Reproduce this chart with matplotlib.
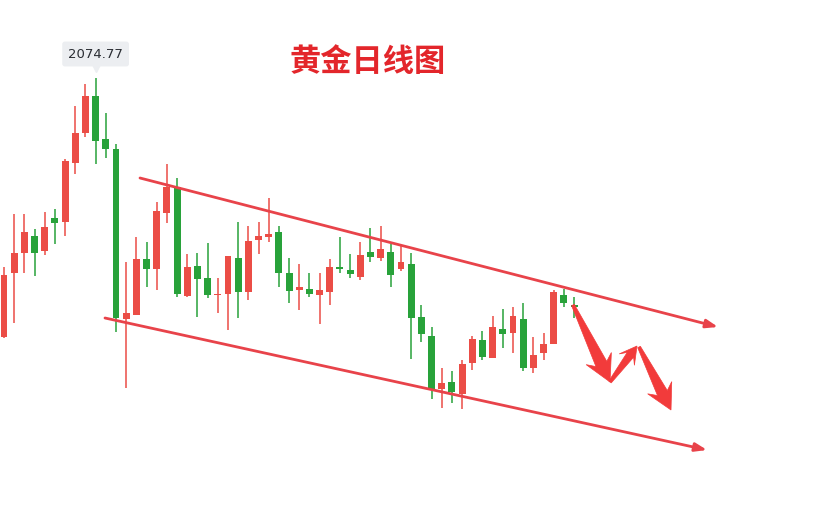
import matplotlib
matplotlib.use("Agg")
import numpy as np
import matplotlib.pyplot as plt
from matplotlib.patches import Polygon
from matplotlib.transforms import offset_copy

# ---------------- Data (daily OHLC) ----------------
opens = [1984.12, 2006.52, 2013.52, 2019.47, 2014.22, 2025.77, 2024.37, 2045.02, 2055.52, 2068.47,
         2053.42, 2049.92, 1990.42, 1991.82, 2011.42, 2007.92, 2027.52, 2036.62, 1998.47, 2008.97,
         2004.77, 1998.82, 1999.17, 2011.77, 1999.87, 2018.07, 2019.12, 2020.87, 2006.52, 2000.57,
         2000.92, 1998.82, 1999.87, 2008.62, 2007.57, 2005.12, 2013.87, 2011.77, 2013.87, 2007.92,
         2009.67, 1991.12, 1984.47, 1965.92, 1968.37, 1964.17, 1975.02, 1983.07, 1976.77, 1986.92,
         1985.52, 1990.42, 1973.27, 1978.52, 1981.67, 1998.82, 1995.32]
highs = [2008.62, 2027.17, 2027.17, 2021.92, 2027.87, 2028.92, 2046.42, 2064.97, 2072.67, 2074.77,
         2062.52, 2051.67, 2010.37, 2019.12, 2017.37, 2031.37, 2044.67, 2039.77, 2013.17, 2013.52,
         2017.02, 2004.77, 2012.47, 2024.37, 2022.97, 2024.37, 2032.77, 2022.97, 2011.77, 2009.67,
         2006.52, 2006.52, 2011.42, 2019.12, 2013.17, 2017.37, 2022.27, 2022.97, 2016.67, 2015.97,
         2013.52, 1995.32, 1987.62, 1973.27, 1972.22, 1976.07, 1984.47, 1986.22, 1991.47, 1993.92,
         1994.62, 1996.02, 1984.12, 1985.52, 2000.57, 2000.92, 1998.12]
lows = [1983.77, 1989.02, 2006.52, 2005.47, 2012.82, 2016.67, 2019.47, 2041.17, 2054.12, 2044.67,
        2046.77, 1985.87, 1966.27, 1991.82, 2001.62, 2000.57, 2024.02, 1998.12, 1998.12, 1991.12,
        1997.77, 1992.52, 1986.57, 1990.77, 1997.07, 2013.17, 2017.37, 2001.62, 1996.02, 1993.57,
        1998.12, 1988.67, 1995.32, 2006.52, 2004.77, 2004.07, 2010.37, 2010.72, 2001.62, 2007.22,
        1976.42, 1982.37, 1962.42, 1959.27, 1961.02, 1958.92, 1972.57, 1976.07, 1976.77, 1980.27,
        1978.52, 1972.22, 1971.52, 1976.07, 1981.67, 1994.62, 1990.77]
closes = [2005.82, 2013.52, 2020.87, 2013.52, 2022.62, 2024.02, 2045.72, 2055.52, 2068.47, 2052.72,
          2049.92, 1990.77, 1992.52, 2011.42, 2007.92, 2028.22, 2036.62, 1999.17, 2008.62, 2004.42,
          1998.82, 1999.17, 2012.47, 1999.87, 2017.72, 2019.47, 2020.17, 2006.52, 2000.22, 2001.62,
          1999.17, 2000.57, 2008.62, 2007.92, 2006.17, 2012.82, 2012.12, 2014.92, 2005.82, 2010.37,
          1990.77, 1985.17, 1965.92, 1968.02, 1964.87, 1974.67, 1983.42, 1977.12, 1987.62, 1985.17,
          1991.47, 1973.27, 1977.82, 1981.67, 1999.87, 1996.02, 1994.62]

peak_index = 9
peak_label = "2074.77"
title_text = "黄金日线图"

# channel lines (bar index, price)
upper_channel = [(13.36, 2039.77), (70.14, 1987.62)]
lower_channel = [(9.92, 1990.77), (69.06, 1944.57)]
# projected zigzag path: (start, tip) per leg
zigzag_legs = [((55.89, 1995.32), (59.53, 1968.37)),
               ((59.53, 1968.37), (62.18, 1980.97)),
               ((62.38, 1980.62), (65.52, 1958.57))]

RED = "#eb4d46"
GREEN = "#28a23a"
LINE_RED = "#e8434a"
ARROW_RED = "#f23b3b"


def wedge_arrow(ax, start, tip, head_len, head_w, shaft_w, notch=6.0, **kw):
    """Arrow whose shaft widens towards a swept-back head (sizes in pixels)."""
    p0 = ax.transData.transform(start)
    p1 = ax.transData.transform(tip)
    u = (p1 - p0) / np.hypot(*(p1 - p0))
    n = np.array([-u[1], u[0]])
    neck = p1 - u * (head_len - notch)
    base = p1 - u * head_len
    pts = np.array([p0 + n * 1.5, neck + n * shaft_w / 2, base + n * head_w / 2, p1,
                    base - n * head_w / 2, neck - n * shaft_w / 2, p0 - n * 1.5])
    pts = ax.transData.inverted().transform(pts)
    ax.add_patch(Polygon(pts, closed=True, **kw))


# ---------------- Figure ----------------
fig = plt.figure(figsize=(8.23, 5.12), dpi=100)
ax = fig.add_axes([0, 0, 1, 1])
ax.set_xlim(-0.393, 80.45)
ax.set_ylim(1922.87, 2102.07)
ax.axis("off")

body_w = 0.68
for i, (o, h, l, c) in enumerate(zip(opens, highs, lows, closes)):
    col = RED if c >= o else GREEN
    ax.vlines(i, l, h, color=col, linewidth=1.1, zorder=2)
    bottom = min(o, c)
    height = max(abs(c - o), 0.45)
    ax.bar(i, height, bottom=bottom, width=body_w, color=col, edgecolor=col,
           linewidth=0, zorder=3)

# channel lines with small arrow heads
for (x0, y0), (x1, y1) in (upper_channel, lower_channel):
    ax.annotate("", xy=(x1, y1), xytext=(x0, y0),
                arrowprops=dict(arrowstyle="-|>,head_length=0.7,head_width=0.25",
                                color=LINE_RED, lw=2.0, shrinkA=0, shrinkB=0),
                zorder=4)

# zigzag arrows
head_sizes = [(26, 28, 12), (17, 19, 8), (25, 27, 11)]
for (start, tip), (hl, hw, sw) in zip(zigzag_legs, head_sizes):
    wedge_arrow(ax, start, tip, hl, hw, sw, facecolor=ARROW_RED, edgecolor=ARROW_RED,
                lw=0.5, zorder=5)

# peak label with pointer
peak_high = highs[peak_index]
lab_tr = offset_copy(ax.transData, fig=fig, x=0, y=24, units="dots")
ax.text(peak_index, peak_high, peak_label, transform=lab_tr, ha="center", va="center",
        fontsize=9.5, color="#2a2d33", family=["DejaVu Sans"],
        bbox=dict(boxstyle="round,pad=0.45,rounding_size=0.2", fc="#eceef1", ec="none"),
        zorder=6)
tri_tr = offset_copy(ax.transData, fig=fig, x=0, y=10, units="dots")
ax.plot(peak_index, peak_high, marker="v", markersize=6, color="#eceef1",
        transform=tri_tr, zorder=6)

# title
fig.text(0.447, 0.879, title_text, ha="center", va="center", fontsize=22.5,
         fontweight="bold", color="#e3262b",
         family=["Noto Sans CJK SC", "DejaVu Sans"])

fig.savefig("out.png", dpi=100, facecolor="white")
